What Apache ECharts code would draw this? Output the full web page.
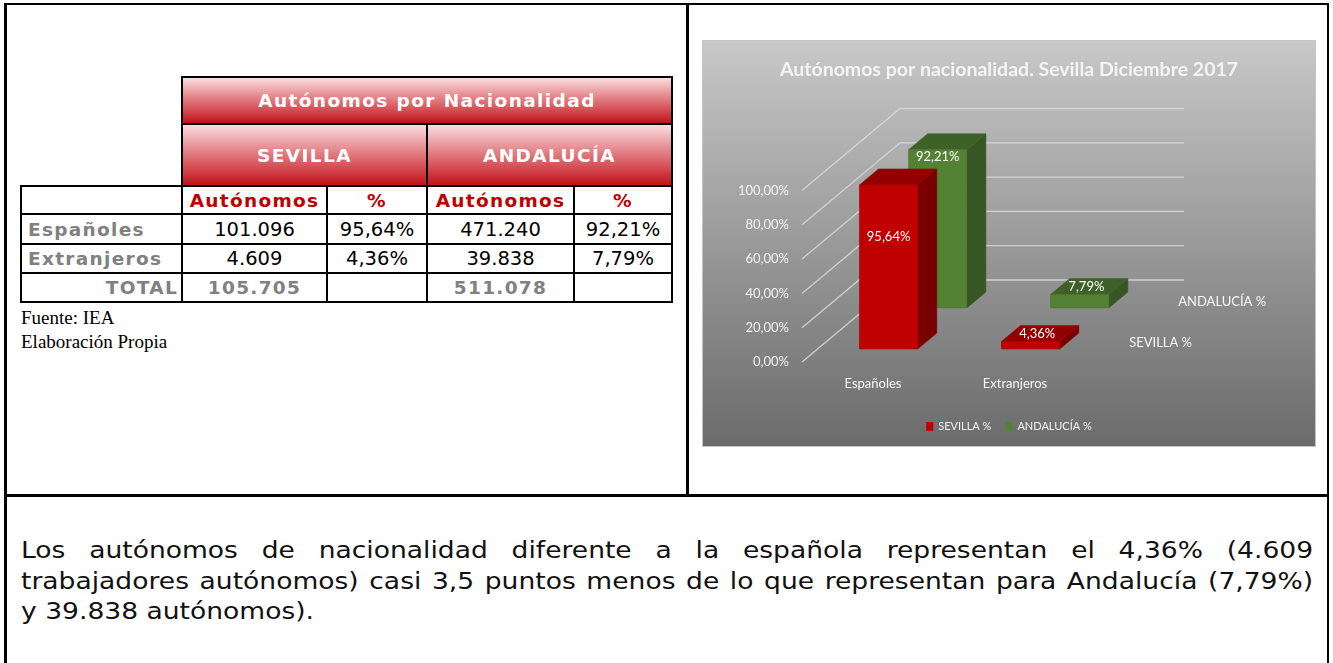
<!DOCTYPE html>
<html>
<head>
<meta charset="utf-8">
<title>Autónomos por nacionalidad</title>
<script src="https://cdn.jsdelivr.net/npm/echarts@6.0.0/dist/echarts.min.js"></script>
<style>
  body { margin: 0; background: #fff; }
  #page { position: relative; width: 1333px; height: 663px; overflow: hidden; background: #fff; }
  .rule { position: absolute; background: #000; }
  .cell {
    position: absolute; box-sizing: border-box; border: 2px solid #000;
    display: flex; align-items: center; justify-content: center;
    font-family: "DejaVu Sans", Verdana, sans-serif; white-space: nowrap;
  }
  .head {
    background: linear-gradient(to bottom, #fadde0 0%, #e58a8f 40%, #d2454b 75%, #c0121a 100%);
    color: #fff; font-weight: bold; font-size: 18.5px; letter-spacing: 1.4px;
  }
  .sub { color: #c00000; font-weight: bold; font-size: 18.5px; letter-spacing: 1.3px; background: #fff; }
  .lbl { color: #808080; font-weight: bold; font-size: 18.5px; letter-spacing: 1.3px; justify-content: flex-start; padding-left: 6px; }
  .tot { color: #808080; font-weight: bold; font-size: 18.5px; letter-spacing: 1.3px; }
  .num { color: #000; font-size: 19.5px; }
  #source { position: absolute; left: 21px; top: 306px; font: 19px/24px "Liberation Serif", "Times New Roman", serif; color: #000; }
  #chart { position: absolute; left: 702px; top: 40px; width: 612px; height: 405px; border: 1px solid #c4c4c4; }
  #text {
    position: absolute; left: 21px; top: 535px; width: 1095px;
    transform: scaleX(1.18); transform-origin: 0 0;
    font: 22.5px/30.5px "DejaVu Sans", Verdana, sans-serif; color: #111;
  }
  #text div { text-align: justify; text-align-last: justify; }
  #text div.last { text-align-last: left; }
</style>
</head>
<body>
<div id="page">
  <!-- marcos del documento -->
  <div class="rule" style="left:4px;top:3px;width:1325px;height:2px"></div>
  <div class="rule" style="left:4px;top:3px;width:3px;height:660px"></div>
  <div class="rule" style="left:1327px;top:3px;width:2px;height:660px"></div>
  <div class="rule" style="left:686px;top:3px;width:3px;height:493px"></div>
  <div class="rule" style="left:4px;top:494px;width:1325px;height:3px"></div>

  <div id="table"></div>
  <div id="source">Fuente: IEA<br>Elaboración Propia</div>
  <div id="chart"></div>
  <div id="text">
    <div>Los autónomos de nacionalidad diferente a la española representan el 4,36% (4.609</div>
    <div>trabajadores autónomos) casi 3,5 puntos menos de lo que representan para Andalucía (7,79%)</div>
    <div class="last">y 39.838 autónomos).</div>
  </div>
</div>

<script>
// datos
const categories = ["Españoles", "Extranjeros"];
const sevillaAutonomos = [101096, 4609];
const sevillaPct = [95.64, 4.36];
const andaluciaAutonomos = [471240, 39838];
const andaluciaPct = [92.21, 7.79];
const totals = [105705, 511078];
const yTicks = [0, 20, 40, 60, 80, 100];

const tableTitle = "Autónomos por Nacionalidad";
const regions = ["SEVILLA", "ANDALUCÍA"];
const chartTitle = "Autónomos por nacionalidad. Sevilla Diciembre 2017";

// formato español
function fmtInt(n) {
  return String(n).replace(/\B(?=(\d{3})+(?!\d))/g, ".");
}
function fmtPct(v) {
  return v.toFixed(2).replace(".", ",") + "%";
}

// ---------- tabla ----------
const colX = [21, 182, 327, 427, 574, 672];
const rowY = [77, 124, 186, 214, 244, 273, 302];
const table = document.getElementById("table");

function cell(c0, c1, r0, r1, cls, text) {
  const d = document.createElement("div");
  d.className = "cell " + cls;
  d.style.left = colX[c0] - 1 + "px";
  d.style.top = rowY[r0] - 1 + "px";
  d.style.width = colX[c1] - colX[c0] + 2 + "px";
  d.style.height = rowY[r1] - rowY[r0] + 2 + "px";
  d.textContent = text;
  table.appendChild(d);
  return d;
}

cell(1, 5, 0, 1, "head", tableTitle);
cell(1, 3, 1, 2, "head", regions[0]);
cell(3, 5, 1, 2, "head", regions[1]);

cell(0, 1, 2, 3, "sub", "");
cell(1, 2, 2, 3, "sub", "Autónomos");
cell(2, 3, 2, 3, "sub", "%");
cell(3, 4, 2, 3, "sub", "Autónomos");
cell(4, 5, 2, 3, "sub", "%");

categories.forEach((name, i) => {
  cell(0, 1, 3 + i, 4 + i, "lbl", name);
  cell(1, 2, 3 + i, 4 + i, "num", fmtInt(sevillaAutonomos[i]));
  cell(2, 3, 3 + i, 4 + i, "num", fmtPct(sevillaPct[i]));
  cell(3, 4, 3 + i, 4 + i, "num", fmtInt(andaluciaAutonomos[i]));
  cell(4, 5, 3 + i, 4 + i, "num", fmtPct(andaluciaPct[i]));
});

const totalCell = cell(0, 1, 5, 6, "lbl", "TOTAL");
totalCell.style.justifyContent = "flex-end";
totalCell.style.paddingRight = "3px";
cell(1, 2, 5, 6, "tot", fmtInt(totals[0]));
cell(2, 3, 5, 6, "tot", "");
cell(3, 4, 5, 6, "tot", fmtInt(totals[1]));
cell(4, 5, 5, 6, "tot", "");

// ---------- gráfico 3D simulado ----------
const DEPTH = [98, -82]; // vector de profundidad en px
const THICK = 0.195; // grosor de cada fila (fracción de la profundidad)
const BAR_RATIO = 0.41; // ancho de barra / ancho de categoría
const FONT = "Lato";

function gridRender(params, api) {
  const v = api.value(1);
  const p = api.coord([0, v]);
  const band = api.size([1, 0])[0];
  const x0 = p[0] - band / 2;
  return {
    type: "polyline",
    shape: {
      points: [
        [x0, p[1]],
        [x0 + DEPTH[0], p[1] + DEPTH[1]],
        [x0 + band * categories.length + DEPTH[0], p[1] + DEPTH[1]],
      ],
    },
    style: { stroke: "#dadada", lineWidth: 1.3, fill: null, opacity: 0.85 },
  };
}

function barRender(depth, colors, labelInset, rowName) {
  return function (params, api) {
    const cat = api.value(0);
    const v = api.value(1);
    const base = api.coord([cat, 0]);
    const top = api.coord([cat, v]);
    const band = api.size([1, 0])[0];
    const bw = band * BAR_RATIO;
    const dx = DEPTH[0] * depth, dy = DEPTH[1] * depth;
    const tx = DEPTH[0] * THICK, ty = DEPTH[1] * THICK;
    const x0 = base[0] - bw / 2 + dx;
    const x1 = x0 + bw;
    const yb = base[1] + dy;
    const yt = top[1] + dy;
    const h = yb - yt;

    let lx, ly;
    if (h > 40) {
      lx = x0 + bw / 2;
      ly = yt + labelInset;
    } else {
      lx = x0 + bw / 2 + tx * 0.35;
      ly = yt + ty / 2;
    }

    const children = [
      {
        type: "polygon",
        shape: { points: [[x1, yt], [x1 + tx, yt + ty], [x1 + tx, yb + ty], [x1, yb]] },
        style: { fill: colors.side, stroke: colors.side, lineWidth: 0.5 },
      },
      {
        type: "polygon",
        shape: { points: [[x0, yt], [x1, yt], [x1 + tx, yt + ty], [x0 + tx, yt + ty]] },
        style: { fill: colors.top, stroke: colors.top, lineWidth: 0.5 },
      },
      {
        type: "rect",
        shape: { x: x0, y: yt, width: bw, height: h },
        style: { fill: colors.front, stroke: colors.edge, lineWidth: 0.6 },
      },
      {
        type: "text",
        style: {
          text: fmtPct(v), x: lx, y: ly, fill: "#ffffff",
          fontSize: 13, fontFamily: FONT, align: "center", verticalAlign: "middle",
        },
      },
    ];

    // etiqueta del eje de profundidad junto a la última categoría
    if (cat === categories.length - 1) {
      children.push({
        type: "text",
        style: {
          text: rowName,
          x: base[0] + band / 2 + DEPTH[0] * (depth + THICK / 2) + 18,
          y: base[1] + DEPTH[1] * (depth + THICK / 2) + 2,
          fill: "#f7f7f7", fontSize: 13, fontFamily: FONT,
          align: "left", verticalAlign: "middle",
        },
      });
    }
    return { type: "group", children: children };
  };
}

const red = { front: "#c00000", top: "#930000", side: "#780000", edge: "#a80000" };
const green = { front: "#548235", top: "#3e6128", side: "#375623", edge: "#4a7330" };

const myChart = echarts.init(document.getElementById("chart"));

const option = {
  backgroundColor: {
    type: "linear", x: 0, y: 0, x2: 0, y2: 1,
    colorStops: [
      { offset: 0, color: "#c8c8c8" },
      { offset: 1, color: "#6b6b6b" },
    ],
  },
  title: {
    text: chartTitle,
    left: "center",
    top: 14,
    textStyle: { color: "#f4f4f4", fontSize: 19.5, fontWeight: "bold", fontFamily: FONT },
  },
  legend: {
    data: ["SEVILLA %", "ANDALUCÍA %"],
    left: "center",
    top: 375,
    icon: "rect",
    itemWidth: 7,
    itemHeight: 9,
    itemGap: 14,
    textStyle: { color: "#f2f2f2", fontSize: 11, fontFamily: FONT },
  },
  grid: { left: 99, top: 149.5, width: 284, height: 171.5 },
  xAxis: {
    type: "category",
    data: categories,
    axisLine: { show: false },
    axisTick: { show: false },
    axisLabel: { color: "#f7f7f7", fontSize: 13, fontFamily: FONT, margin: 15 },
  },
  yAxis: {
    type: "value",
    min: 0,
    max: 100,
    interval: 20,
    splitLine: { show: false },
    axisLine: { show: false },
    axisTick: { show: false },
    axisLabel: {
      color: "#f2f2f2", fontSize: 13, fontFamily: FONT, margin: 13,
      formatter: (v) => fmtPct(v),
    },
  },
  series: [
    {
      name: "grid3d",
      type: "custom",
      silent: true,
      z: 1,
      renderItem: gridRender,
      data: yTicks.map((v) => [0, v]),
    },
    {
      name: "ANDALUCÍA %",
      type: "custom",
      z: 2,
      itemStyle: { color: green.front },
      renderItem: barRender(0.66, green, 7, "ANDALUCÍA %"),
      data: andaluciaPct.map((v, i) => [i, v]),
    },
    {
      name: "SEVILLA %",
      type: "custom",
      z: 3,
      itemStyle: { color: red.front },
      renderItem: barRender(0.159, red, 52, "SEVILLA %"),
      data: sevillaPct.map((v, i) => [i, v]),
    },
  ],
};

myChart.setOption(option);
</script>
</body>
</html>
